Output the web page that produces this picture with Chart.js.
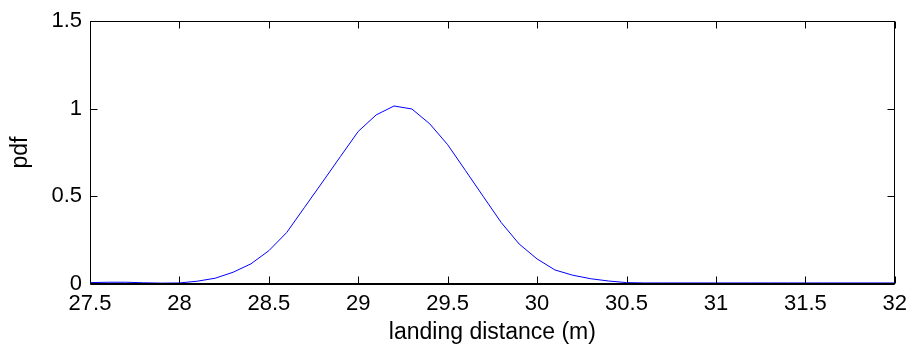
<!DOCTYPE html>
<html>
<head>
<meta charset="utf-8">
<script src="https://cdn.jsdelivr.net/npm/chart.js@4/dist/chart.umd.min.js"></script>
<style>
  html, body { margin: 0; padding: 0; background: #fff; }
  #wrap { width: 914px; height: 348px; }
</style>
</head>
<body>
<div id="wrap"><canvas id="myChart"></canvas></div>
<script>
// landing distance (m) and the estimated pdf at each point
const distances = [
    27.5, 27.6, 27.7, 27.8, 27.9, 28.0, 28.1, 28.2, 28.3, 28.4,
    28.5, 28.6, 28.7, 28.8, 28.9, 29.0, 29.1, 29.2, 29.3, 29.4,
    29.5, 29.6, 29.7, 29.8, 29.9, 30.0, 30.1, 30.2, 30.3, 30.4,
    30.5, 30.6, 30.7, 30.8, 30.9, 31.0, 31.1, 31.2, 31.3, 31.4,
    31.5, 31.6, 31.7, 31.8, 31.9, 32.0
]
const pdfValues = [
    0.008, 0.010, 0.010, 0.007, 0.005, 0.006, 0.016, 0.033, 0.067, 0.115,
    0.190, 0.294, 0.438, 0.582, 0.727, 0.871, 0.965, 1.016, 0.999, 0.914,
    0.795, 0.647, 0.498, 0.350, 0.228, 0.143, 0.080, 0.050, 0.030, 0.017,
    0.008, 0.006, 0.006, 0.006, 0.006, 0.006, 0.006, 0.006, 0.006, 0.006,
    0.006, 0.006, 0.006, 0.006, 0.006, 0.006
]
const xTicks = [27.5, 28, 28.5, 29, 29.5, 30, 30.5, 31, 31.5, 32]
const yTicks = [0, 0.5, 1, 1.5]

const fontFamily = '"Liberation Sans", Arial, sans-serif'

// matlab style box with inward tick marks on every side
const boxPlugin = {
    id: 'matlabBox',
    afterDraw(chart) {
        const ctx = chart.ctx
        const area = chart.chartArea
        const xs = chart.scales.x
        const ys = chart.scales.y
        const left = Math.round(area.left) + 0.5
        const right = Math.round(area.right) - 0.5
        const top = Math.round(area.top) + 0.5
        const bottom = Math.round(area.bottom) - 0.5
        const len = 7
        ctx.save()
        ctx.strokeStyle = '#000'
        ctx.lineWidth = 1
        ctx.beginPath()
        xTicks.forEach(v => {
            const px = Math.round(xs.getPixelForValue(v)) + 0.5
            ctx.moveTo(px, bottom); ctx.lineTo(px, bottom - len)
            ctx.moveTo(px, top); ctx.lineTo(px, top + len)
        })
        yTicks.forEach(v => {
            const py = Math.round(ys.getPixelForValue(v)) + 0.5
            ctx.moveTo(left, py); ctx.lineTo(left + len, py)
            ctx.moveTo(right, py); ctx.lineTo(right - len, py)
        })
        ctx.stroke()
        ctx.strokeRect(left, top, right - left, bottom - top)
        // heavier bottom axis as in the reference
        ctx.lineWidth = 2
        ctx.beginPath()
        ctx.moveTo(left, bottom + 0.5); ctx.lineTo(right, bottom + 0.5)
        ctx.stroke()
        ctx.restore()
    }
}

const context = document.getElementById('myChart').getContext('2d')
const myChart = new Chart(context, {
    type: 'line',
    data: {
        datasets: [{
            data: distances.map((d, i) => ({ x: d, y: pdfValues[i] })),
            borderColor: '#0000ff',
            borderWidth: 1,
            pointRadius: 0,
            tension: 0,
            fill: false
        }]
    },
    options: {
        responsive: true,
        maintainAspectRatio: false,
        animation: false,
        layout: { padding: { top: 20, right: 16, left: 0, bottom: 0 } },
        plugins: {
            legend: { display: false },
            tooltip: { enabled: false }
        },
        scales: {
            x: {
                type: 'linear',
                min: 27.5,
                max: 32,
                afterBuildTicks: scale => { scale.ticks = xTicks.map(v => ({ value: v })) },
                afterFit: scale => { scale.height = 64 },
                grid: { display: false, drawTicks: false },
                border: { display: false },
                ticks: {
                    padding: 7,
                    color: '#000',
                    font: { family: fontFamily, size: 22 },
                    maxRotation: 0,
                    callback: v => String(v)
                },
                title: {
                    display: true,
                    text: 'landing distance (m)',
                    color: '#000',
                    font: { family: fontFamily, size: 23 },
                    padding: { top: 0, bottom: 2 }
                }
            },
            y: {
                min: 0,
                max: 1.5,
                afterBuildTicks: scale => { scale.ticks = yTicks.map(v => ({ value: v })) },
                afterFit: scale => { scale.width = 90 },
                grid: { display: false, drawTicks: false },
                border: { display: false },
                ticks: {
                    padding: 8,
                    color: '#000',
                    font: { family: fontFamily, size: 22 },
                    callback: v => String(v)
                },
                title: {
                    display: true,
                    text: 'pdf',
                    color: '#000',
                    font: { family: fontFamily, size: 23 },
                    padding: { top: 7, bottom: 0 }
                }
            }
        }
    },
    plugins: [boxPlugin]
})
</script>
</body>
</html>
